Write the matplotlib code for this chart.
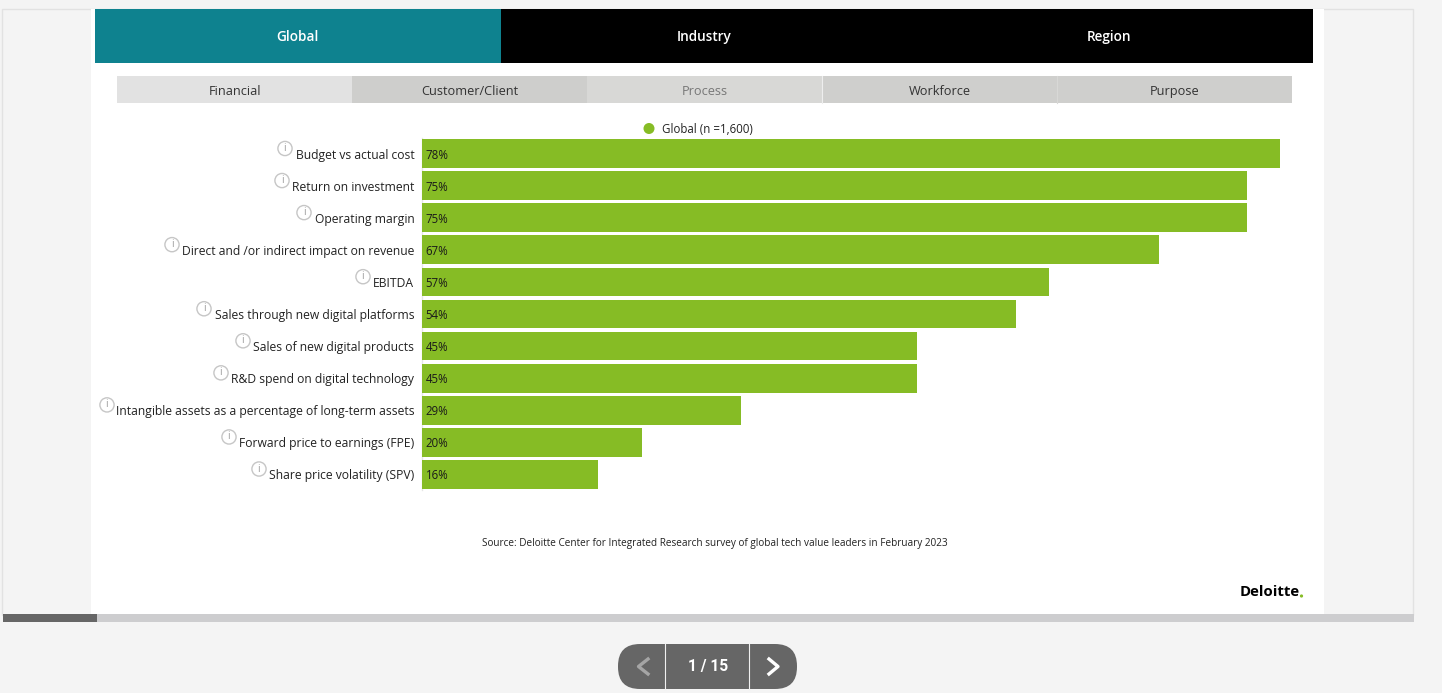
import matplotlib
matplotlib.use("Agg")
import matplotlib.pyplot as plt
from matplotlib.patches import Rectangle, Circle, FancyBboxPatch

plt.rcParams["font.family"] = ["Open Sans", "DejaVu Sans"]

W, H = 1442, 693

metrics = ["Budget vs actual cost", "Return on investment", "Operating margin",
           "Direct and /or indirect impact on revenue", "EBITDA",
           "Sales through new digital platforms", "Sales of new digital products",
           "R&D spend on digital technology",
           "Intangible assets as a percentage of long-term assets",
           "Forward price to earnings (FPE)", "Share price volatility (SPV)"]
values = [78, 75, 75, 67, 57, 54, 45, 45, 29, 20, 16]
icon_x = [285, 282, 304, 172, 363, 204, 243, 221, 107, 229, 259]

top_tabs = ["Global", "Industry", "Region"]
sub_tabs = ["Financial", "Customer/Client", "Process", "Workforce", "Purpose"]
sub_colors = ["#e2e2e2", "#cececc", "#d8d8d6", "#cfcfcd", "#cfcfcd"]
sub_text = ["#333333", "#333333", "#777777", "#333333", "#333333"]

GREEN = "#86bc25"

fig = plt.figure(figsize=(W / 100, H / 100), dpi=100, facecolor="#f4f4f4")

# page furniture, in pixel coords
bg = fig.add_axes([0, 0, 1, 1])
bg.set_xlim(0, W)
bg.set_ylim(H, 0)
bg.axis("off")


def box(x0, y0, x1, y1, color, **kw):
    bg.add_patch(Rectangle((x0, y0), x1 - x0, y1 - y0, fc=color, ec="none", **kw))


bg.add_patch(Rectangle((1.5, 8.5), 1411.5, 606, fc="none", ec="#e2e2e2", lw=1))
box(91, 9, 1324, 614, "white")

# top tabs
box(95, 9, 501, 63, "#0e828f")
box(501, 9, 1313, 63, "black")
for label, x in zip(top_tabs, [297.5, 704, 1108.5]):
    bg.text(x, 37, label, color="white", fontsize=9.8, ha="center", va="center",
            fontweight="semibold")

# sub tabs
edges = [117, 352, 587, 822, 1057, 1292]
for i, label in enumerate(sub_tabs):
    box(edges[i], 76, edges[i + 1], 103, sub_colors[i])
    bg.text((edges[i] + edges[i + 1]) / 2, 91.4, label, color=sub_text[i], fontsize=9.2,
            ha="center", va="center")
bg.plot([821.5, 821.5], [76, 103], color="#eeeeee", lw=0.8)
bg.plot([1056.5, 1056.5], [76, 103], color="#d8d8d6", lw=0.8)

# legend
bg.add_patch(Circle((649, 128.5), 5.5, fc=GREEN, ec="none"))
bg.text(662, 129.6, "Global (n =1,600)", fontsize=8.3, color="#222222", va="center")

# bar chart
ax = fig.add_axes([422 / W, 1 - 490.3 / H, 858 / W, (490.3 - 137.7) / H])
ax.patch.set_alpha(0)
ax.barh(range(len(values)), values, height=0.9, color=GREEN, zorder=3)
ax.set_xlim(0, 78)
ax.set_ylim(len(values) - 0.5, -0.5)
ax.set_xticks([])
ax.set_yticks(range(len(values)))
ax.set_yticklabels(metrics, fontsize=8.77, color="#222222")
ax.tick_params(axis="y", length=0, pad=5.5)
for s in ["top", "right", "bottom"]:
    ax.spines[s].set_visible(False)
ax.spines["left"].set_color("#e6e6e6")
ax.spines["left"].set_linewidth(1)
ax.spines["left"].set_zorder(1)
for i, v in enumerate(values):
    ax.annotate(f"{v}%", (0, i), xytext=(2.6, -1), textcoords="offset points", fontsize=8.3,
                color="#1a1a1a", va="center", ha="left", zorder=4)

# info icons next to the labels
for i, x in enumerate(icon_x):
    cy = 148.5 + 32.05 * i
    bg.add_patch(Circle((x, cy), 7.1, fc="white", ec="#c6c6c6", lw=1))
    bg.text(x, cy, "i", fontsize=7.5, color="#a0a0a0", ha="center", va="center")

# source and logo
bg.text(715, 543.8, "Source: Deloitte Center for Integrated Research survey of global tech value leaders in February 2023",
        fontsize=7.2, color="#222222", ha="center", va="center")
bg.text(1240, 592, "Deloitte", fontsize=10.8, fontweight="bold", color="black",
        ha="left", va="center")
bg.add_patch(Circle((1301.5, 596), 1.6, fc=GREEN, ec="none"))

# scroll bar
box(3, 614, 1414, 622, "#cdcdcf")
box(3, 614, 97, 622, "#666666")

# pager
bg.add_patch(FancyBboxPatch((618, 644), 179, 45, boxstyle="round,pad=0,rounding_size=22",
                            fc="#666666", ec="none"))
bg.plot([665, 665], [644, 689], color="#f0f0f0", lw=0.8)
bg.plot([749, 749], [644, 689], color="#f0f0f0", lw=0.8)
bg.plot([648, 638.5, 648], [659, 666.5, 674], color="#a5a5a5", lw=2.4)
bg.plot([769, 778, 769], [659, 666.5, 674], color="white", lw=2.4)
bg.text(708, 666.5, "1 / 15", color="white", fontsize=11.2, fontweight="bold",
        ha="center", va="center", family="Roboto")

fig.savefig("out.png", dpi=100, facecolor=fig.get_facecolor())
